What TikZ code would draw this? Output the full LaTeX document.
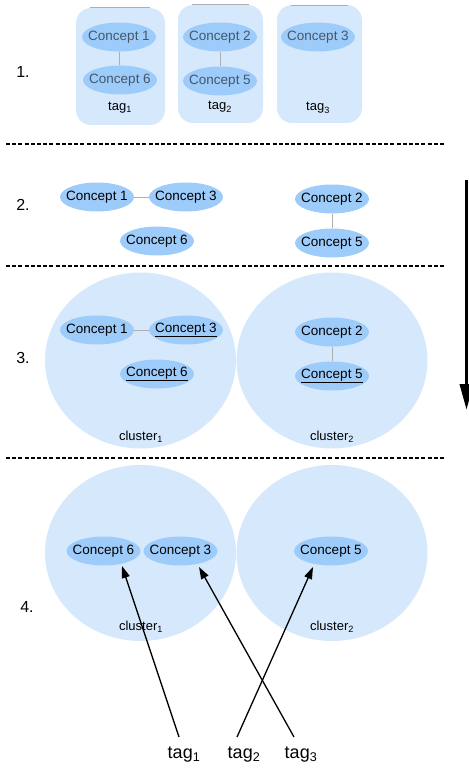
\documentclass[tikz,border=0pt]{standalone}
\usepackage{fontspec}
\setmainfont{Liberation Sans}
\usetikzlibrary{arrows.meta,shapes.geometric}
\definecolor{pale}{HTML}{D6E9FC}
\definecolor{conc}{HTML}{9ECCFA}
\definecolor{fadetext}{HTML}{44576A}
\definecolor{linkgray}{HTML}{AFAFAF}
\newcommand\cpt[1]{\makebox[0pt]{#1}}
\begin{document}
\begin{tikzpicture}[x=1pt,y=-1pt,
  concept/.style={ellipse,fill=conc,minimum width=74pt,minimum height=29pt,inner sep=0pt,font=\fontsize{13.5}{15}\selectfont},
  fadeconcept/.style={concept,text=fadetext},
  tagbox/.style={fill=pale,rounded corners=15pt},
  cluster/.style={ellipse,fill=pale,minimum width=191pt,minimum height=176pt,inner sep=0pt},
  link/.style={draw=linkgray,line width=0.8pt},
  sep/.style={line width=1.6pt,dash pattern=on 4pt off 2.2pt},
  steplabel/.style={font=\fontsize{16}{18}\selectfont},
  small/.style={font=\fontsize{13}{15}\selectfont},
  biglabel/.style={font=\fontsize{18}{20}\selectfont},
  tagarrow/.style={line width=1.3pt,-{Triangle[length=12pt,width=8pt]}}
]
\useasboundingbox (0,0) rectangle (468,770);
% ---------- Section 1 ----------
\node[steplabel] (n1) at (23,72) {1.};
\fill[tagbox] (76,8) rectangle (165,125);
\fill[tagbox] (178,5) rectangle (263,123);
\fill[tagbox] (277,5) rectangle (362,123);
\coordinate (g1a) at (90,7); \coordinate (g1b) at (150,7);
\coordinate (g2a) at (192,4.5); \coordinate (g2b) at (249,4.5);
\coordinate (g3a) at (291,5.5); \coordinate (g3b) at (348,5.5);
\draw[linkgray,line width=0.8pt] (g1a) -- (g1b) (g2a) -- (g2b) (g3a) -- (g3b);
\node[fadeconcept] (a1) at (119,37) {\cpt{Concept 1}};
\node[fadeconcept] (a6) at (120,80) {\cpt{Concept 6}};
\node[fadeconcept] (a2) at (220,37) {\cpt{Concept 2}};
\node[fadeconcept] (a5) at (220,81) {\cpt{Concept 5}};
\node[fadeconcept] (a3) at (318,37) {\cpt{Concept 3}};
\draw[link] (a1) -- (a6);
\draw[link] (a2) -- (a5);
\node[small] (t1) at (120,108) {tag\textsubscript{1}};
\node[small] (t2) at (220,107) {tag\textsubscript{2}};
\node[small] (t3) at (318,108) {tag\textsubscript{3}};
% separators
\coordinate (s1a) at (6,144); \coordinate (s1b) at (446,144);
\coordinate (s2a) at (6,266); \coordinate (s2b) at (446,266);
\coordinate (s3a) at (6,458); \coordinate (s3b) at (446,458);
\draw[sep] (s1a) -- (s1b);
\draw[sep] (s2a) -- (s2b);
\draw[sep] (s3a) -- (s3b);
% ---------- Section 2 ----------
\node[steplabel] (n2) at (23,205) {2.};
\node[concept] (b1) at (97,197) {\cpt{Concept 1}};
\node[concept] (b3) at (186,197) {\cpt{Concept 3}};
\node[concept] (b6) at (157,241) {\cpt{Concept 6}};
\node[concept] (b2) at (332,199) {\cpt{Concept 2}};
\node[concept] (b5) at (332,243) {\cpt{Concept 5}};
\draw[link] (b1) -- (b3);
\draw[link] (b2) -- (b5);
% ---------- Section 3 ----------
\node[steplabel] (n3) at (23,358) {3.};
\node[cluster] (c1) at (140.5,360.5) {};
\node[cluster] (c2) at (332,360.5) {};
\node[concept] (d1) at (97,330) {\cpt{Concept 1}};
\node[concept] (d3) at (186,330) {\cpt{\underline{Concept 3}}};
\node[concept] (d6) at (157,374) {\cpt{\underline{Concept 6}}};
\node[concept] (d2) at (332,332) {\cpt{Concept 2}};
\node[concept] (d5) at (332,376) {\cpt{\underline{Concept 5}}};
\draw[link] (d1) -- (d3);
\draw[link] (d2) -- (d5);
\node[small] (cl1) at (141,437) {cluster\textsubscript{1}};
\node[small] (cl2) at (332,437) {cluster\textsubscript{2}};
% big arrow
\coordinate (ba) at (466.5,180); \coordinate (bb) at (466.5,410);
\draw[line width=3.6pt,-{Triangle[length=26pt,width=13pt]}] (ba) -- (bb);
% ---------- Section 4 ----------
\node[steplabel] (n4) at (27,607) {4.};
\node[cluster] (e1) at (140.5,553) {};
\node[cluster] (e2) at (332,553) {};
\node[concept] (f6) at (103.5,551) {\cpt{Concept 6}};
\node[concept] (f3) at (180.5,551) {\cpt{Concept 3}};
\node[concept] (f5) at (331,551) {\cpt{Concept 5}};
\node[small] (cl3) at (141,627) {cluster\textsubscript{1}};
\node[small] (cl4) at (332,627) {cluster\textsubscript{2}};
\node[biglabel,inner sep=0pt] (u1) at (184,755) {tag\textsubscript{1}};
\node[biglabel,inner sep=0pt] (u2) at (244,755) {tag\textsubscript{2}};
\node[biglabel,inner sep=0pt] (u3) at (301,755) {tag\textsubscript{3}};
\coordinate (p1) at (179,737); \coordinate (q1) at (122,566);
\coordinate (p2) at (237,737); \coordinate (q2) at (313,567);
\coordinate (p3) at (294,737); \coordinate (q3) at (199,567);
\draw[tagarrow] (p1) -- (q1);
\draw[tagarrow] (p2) -- (q2);
\draw[tagarrow] (p3) -- (q3);
\end{tikzpicture}
\end{document}
